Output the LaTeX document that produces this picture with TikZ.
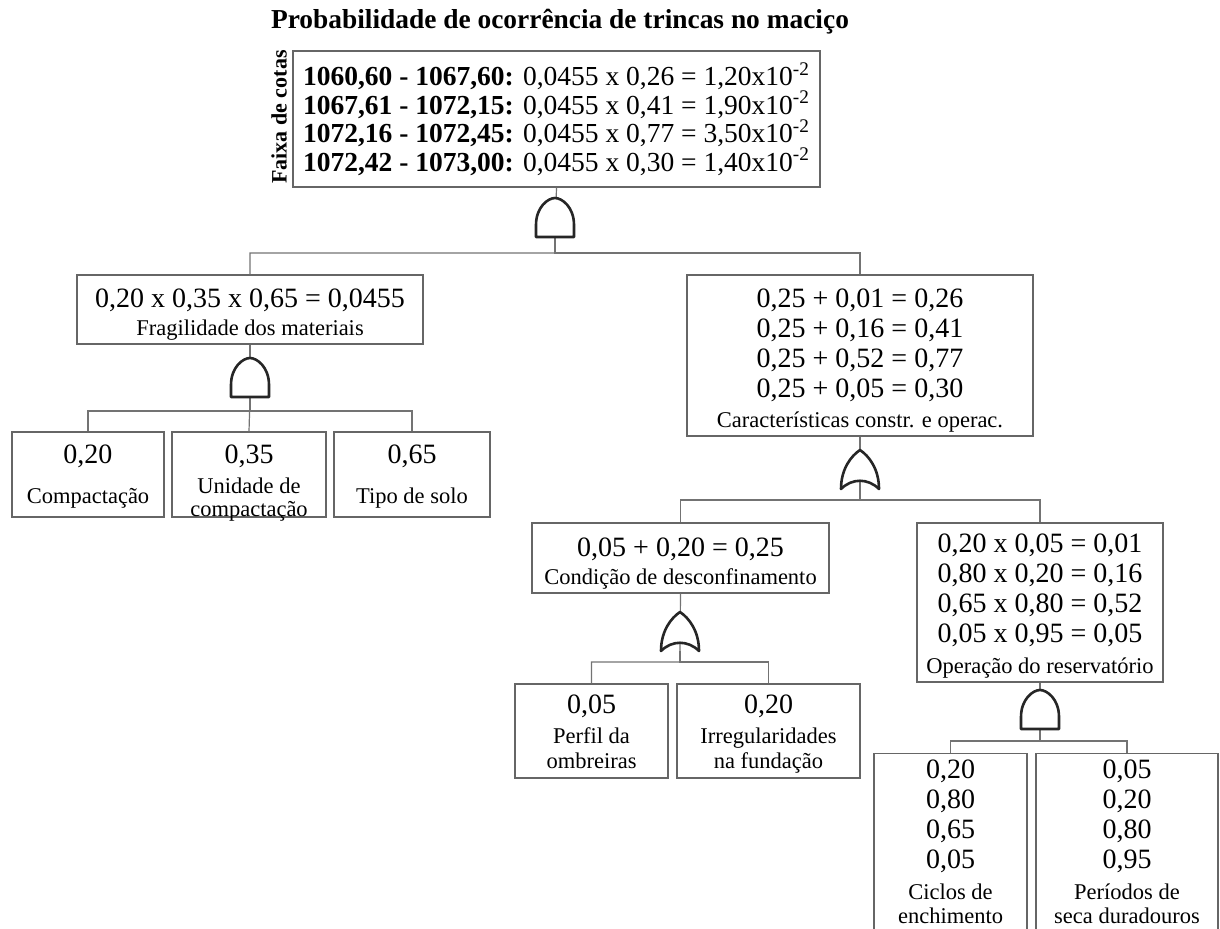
\documentclass[tikz,border=0pt]{standalone}
\usepackage{fontspec}
\setmainfont{Liberation Serif}
\usetikzlibrary{calc}
\newcommand{\rotulo}{\fontsize{11.25}{12}\selectfont}

\begin{document}
\begin{tikzpicture}[x=0.5pt,y=-0.5pt]
\tikzstyle{caixa}=[draw=black!60,line width=0.6pt,inner sep=0pt,align=center,font={\fontsize{14}{15}\selectfont}]
\tikzstyle{fio}=[draw=black!55,line width=0.6pt]
\tikzstyle{porta}=[draw=black!85,line width=1.3pt,fill=white,line join=round]
\useasboundingbox (0,0) rectangle (1220,928);
\node[font={\bfseries\fontsize{13.7}{14}\selectfont}] (titulo) at (560,22) {Probabilidade de ocorrência de trincas no maciço};
\node[rotate=90,font={\bfseries\fontsize{11}{12}\selectfont}] (faixa) at (279,117) {Faixa de cotas};
\node[caixa,align=left,font={\fontsize{13.75}{14.25}\selectfont},minimum width=263.5pt,minimum height=68pt] (T) at (556.5,119) {\textbf{1060,60 - 1067,60:} 0,0455 x 0,26 = 1,20x10\textsuperscript{-2}\\
\textbf{1067,61 - 1072,15:} 0,0455 x 0,41 = 1,90x10\textsuperscript{-2}\\
\textbf{1072,16 - 1072,45:} 0,0455 x 0,77 = 3,50x10\textsuperscript{-2}\\
\textbf{1072,42 - 1073,00:} 0,0455 x 0,30 = 1,40x10\textsuperscript{-2}};
\node[caixa,minimum width=173pt,minimum height=34.5pt,text height=30pt,text depth=4.5pt] (F) at (250,309.5) {0,20 x 0,35 x 0,65 = 0,0455\\[-1pt]{\rotulo Fragilidade dos materiais}};
\node[caixa,minimum width=76pt,minimum height=42.5pt,text height=35.5pt,text depth=7pt] (F1) at (88,474.5) {0,20\\[5pt]{\rotulo Compactação}};
\node[caixa,minimum width=77pt,minimum height=42.5pt,text height=42pt,text depth=0.5pt] (F2) at (249,474.5) {0,35\\{\rotulo Unidade de}\\[-3.5pt]{\rotulo compactação}};
\node[caixa,minimum width=78pt,minimum height=42.5pt,text height=35.5pt,text depth=7pt] (F3) at (412,474.5) {0,65\\[5pt]{\rotulo Tipo de solo}};
\node[caixa,minimum width=173pt,minimum height=80.5pt,text height=76pt,text depth=4.5pt] (C) at (860,355.5) {0,25 + 0,01 = 0,26\\0,25 + 0,16 = 0,41\\0,25 + 0,52 = 0,77\\0,25 + 0,05 = 0,30\\{\rotulo Características constr. e operac.}};
\node[caixa,minimum width=148.5pt,minimum height=35pt,text height=30.5pt,text depth=4.5pt] (D) at (680.5,558) {0,05 + 0,20 = 0,25\\[-1pt]{\rotulo Condição de desconfinamento}};
\node[caixa,minimum width=76.5pt,minimum height=47pt,text height=42pt,text depth=5pt] (D1) at (591.5,731) {0,05\\{\rotulo Perfil da}\\[-2.5pt]{\rotulo ombreiras}};
\node[caixa,minimum width=91.5pt,minimum height=47pt,text height=42pt,text depth=5pt] (D2) at (768.5,731) {0,20\\{\rotulo Irregularidades}\\[-2.5pt]{\rotulo na fundação}};
\node[caixa,minimum width=123pt,minimum height=79.5pt,text height=75pt,text depth=4.5pt] (O) at (1040,602.5) {0,20 x 0,05 = 0,01\\0,80 x 0,20 = 0,16\\0,65 x 0,80 = 0,52\\0,05 x 0,95 = 0,05\\[0.5pt]{\rotulo Operação do reservatório}};
\node[caixa,anchor=north,minimum width=76.5pt,minimum height=93pt,text height=85pt,text depth=8pt] (O1) at (950.5,753) {0,20\\0,80\\0,65\\0,05\\[0.5pt]{\rotulo Ciclos de}\\[-3pt]{\rotulo enchimento}};
\node[caixa,anchor=north,minimum width=91pt,minimum height=93pt,text height=85pt,text depth=8pt] (O2) at (1127,753) {0,05\\0,20\\0,80\\0,95\\[0.5pt]{\rotulo Períodos de}\\[-3pt]{\rotulo seca duradouros}};
\coordinate (gT) at (555,237);
\coordinate (gF) at (250,397);
\coordinate (gC) at (860,489);
\coordinate (gD) at (680,651);
\coordinate (gO) at (1040,729);
\draw[fio] (T.south) -- (gT) -- ++(0,16) -| (F.north);
\draw[fio] (gT) -- ++(0,16) -| (C.north);
\draw[fio] (F.south) -- (gF) -- ++(0,14) -| (F1.north);
\draw[fio] (gF) -- ++(0,14) -| (F3.north);
\draw[fio] (gF) -- (F2.north);
\draw[fio] (C.south) -- (gC) -- ++(0,11) -| (D.north);
\draw[fio] (gC) -- ++(0,11) -| (O.north);
\draw[fio] (D.south) -- (gD) -- ++(0,11) -| (D1.north);
\draw[fio] (gD) -- ++(0,11) -| (D2.north);
\draw[fio] (O.south) -- (gO) -- ++(0,12) -| (O1.north);
\draw[fio] (gO) -- ++(0,12) -| (O2.north);
\draw[porta,shift={(gT)}] (-19,0) -- (-19,-12) .. controls (-19,-30) and (-7,-39) .. (0,-39) .. controls (7,-39) and (19,-30) .. (19,-12) -- (19,0) -- cycle;
\draw[porta,shift={(gF)}] (-19,0) -- (-19,-12) .. controls (-19,-30) and (-7,-39) .. (0,-39) .. controls (7,-39) and (19,-30) .. (19,-12) -- (19,0) -- cycle;
\draw[porta,shift={(gO)}] (-19,0) -- (-19,-12) .. controls (-19,-30) and (-7,-39) .. (0,-39) .. controls (7,-39) and (19,-30) .. (19,-12) -- (19,0) -- cycle;
\draw[porta,shift={(gC)}] (-19,0) .. controls (-8,-11) and (8,-11) .. (19,0) .. controls (19,-20) and (9,-33) .. (0,-39) .. controls (-9,-33) and (-19,-20) .. (-19,0) -- cycle;
\draw[porta,shift={(gD)}] (-19,0) .. controls (-8,-11) and (8,-11) .. (19,0) .. controls (19,-20) and (9,-33) .. (0,-39) .. controls (-9,-33) and (-19,-20) .. (-19,0) -- cycle;
\end{tikzpicture}
\end{document}
